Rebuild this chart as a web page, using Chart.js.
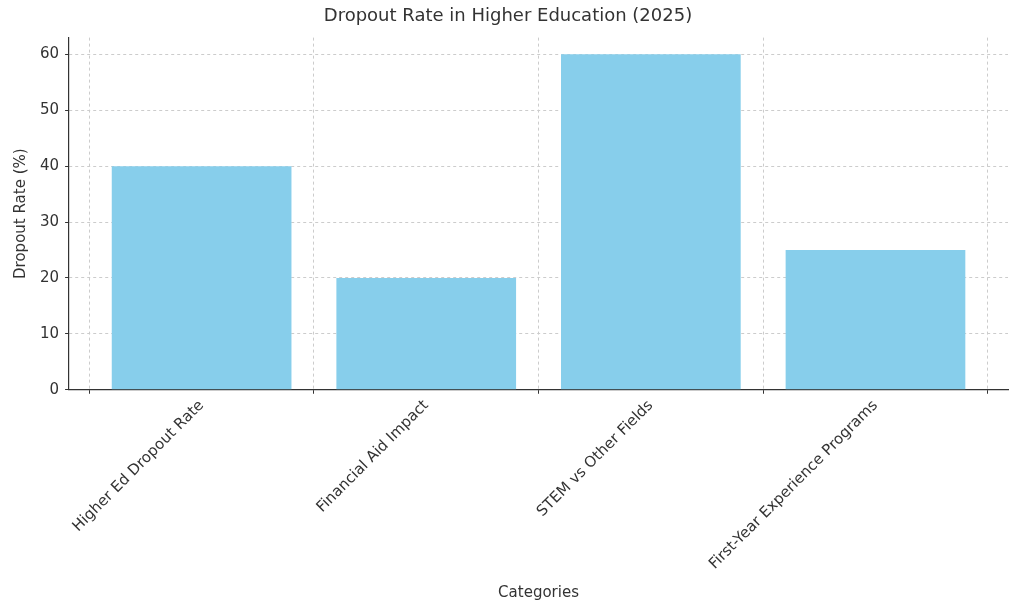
<!DOCTYPE html>
<html>
<head>
<meta charset="utf-8">
<script src="https://cdn.jsdelivr.net/npm/chart.js@4"></script>
<style>
  html, body { margin: 0; padding: 0; background: #fff; }
  #wrap { width: 1024px; height: 614px; }
</style>
</head>
<body>
<div id="wrap"><canvas id="c"></canvas></div>
<script>
const categories = ['Higher Ed Dropout Rate', 'Financial Aid Impact', 'STEM vs Other Fields', 'First-Year Experience Programs'];
const dropoutRates = [40, 20, 60, 25];
const yTicks = [0, 10, 20, 30, 40, 50, 60];

const grid = { color: '#cccccc', drawTicks: true, tickColor: '#333', tickLength: 4 };
const border = { color: '#333', width: 1.2, dash: [3, 3] };

new Chart(document.getElementById('c'), {
  type: 'bar',
  data: {
    datasets: [{
      data: dropoutRates.map((v, i) => ({ x: i, y: v })),
      backgroundColor: '#87CEEB',
      barPercentage: 0.8,
      categoryPercentage: 1
    }]
  },
  options: {
    responsive: true,
    maintainAspectRatio: false,
    animation: false,
    layout: { padding: { left: 8, right: 16, top: 2, bottom: 8 } },
    plugins: {
      legend: { display: false },
      tooltip: { enabled: false },
      title: {
        display: true,
        text: 'Dropout Rate in Higher Education (2025)',
        color: '#333',
        font: { family: 'DejaVu Sans', size: 18, weight: 'normal' },
        padding: { top: 4, bottom: 10 }
      }
    },
    scales: {
      x: {
        type: 'linear',
        offset: false,
        min: -0.59,
        max: 3.59,
        afterBuildTicks: axis => { axis.ticks = categories.map((_, i) => ({ value: i })); },
        ticks: {
          callback: v => categories[v],
          maxRotation: 45, minRotation: 45,
          color: '#333',
          font: { family: 'DejaVu Sans', size: 15 }
        },
        grid: grid,
        border: border,
        title: { display: true, text: 'Categories', color: '#333', font: { family: 'DejaVu Sans', size: 15 }, padding: { top: 8 } }
      },
      y: {
        min: 0,
        max: 63,
        afterBuildTicks: axis => { axis.ticks = yTicks.map(v => ({ value: v })); },
        ticks: { color: '#333', font: { family: 'DejaVu Sans', size: 15 }, padding: 6 },
        grid: grid,
        border: border,
        title: { display: true, text: 'Dropout Rate (%)', color: '#333', font: { family: 'DejaVu Sans', size: 15 } }
      }
    }
  }
});
</script>
</body>
</html>
